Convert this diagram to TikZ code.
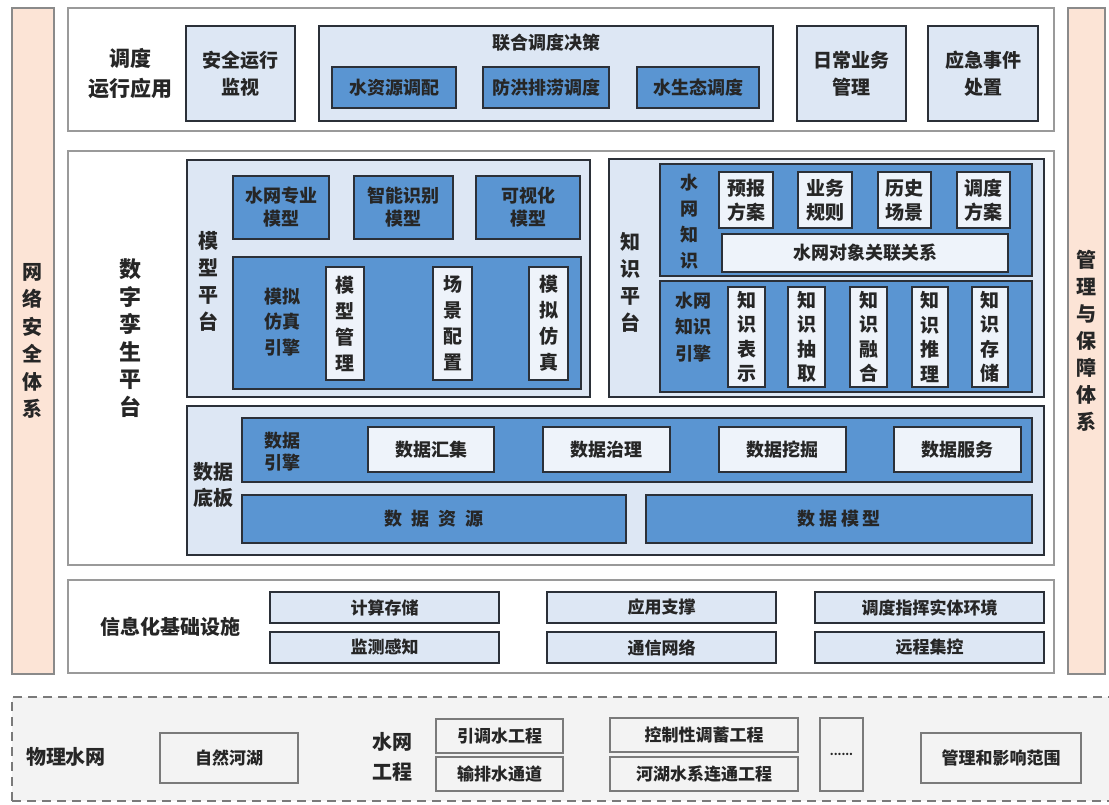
\documentclass[tikz,border=0pt]{standalone}
\usepackage{fontspec}
\setmainfont{Noto Sans CJK SC}
\definecolor{peach}{HTML}{FCE4D6}
\definecolor{lblue}{HTML}{DDE7F4}
\definecolor{wblue}{HTML}{EEF3FA}
\definecolor{mblue}{HTML}{5A95D2}
\definecolor{dk}{HTML}{2B3038}
\definecolor{gbord}{HTML}{8A8A8A}
\definecolor{secb}{HTML}{9A9A9A}
\definecolor{bgray}{HTML}{F3F3F3}
\definecolor{pgray}{HTML}{7A7A7A}
\definecolor{txt}{HTML}{262626}
\newcommand\bx[7]{\node[#6,minimum width={(#4-#2)*1pt},minimum height={(#5-#3)*1pt}] (#1) at ({(#2+#4)/2},{(#3+#5)/2}) {#7};}
\tikzset{
  every node/.style={inner sep=0pt, outer sep=0pt, align=center, text=txt},
  fs/.style 2 args={font=\bfseries\fontsize{#1}{#2}\selectfont},
  pillar/.style={draw=gbord, fill=peach, line width=1.2pt},
  section/.style={draw=secb, fill=white, line width=1.6pt},
  lbox/.style={draw=dk, fill=lblue, line width=1.4pt},
  mbox/.style={draw=dk, fill=mblue, line width=1.4pt},
  wbox/.style={draw=dk, fill=wblue, line width=1.3pt},
  pbox/.style={draw=pgray, fill=bgray, line width=1.5pt},
  dashregion/.style={draw=pgray, fill=bgray, line width=1.4pt, dash pattern=on 9pt off 6pt},
}
\begin{document}
\begin{tikzpicture}[x=1pt,y=-1pt]
\fill[white] (0,0) rectangle (1109,805);
\useasboundingbox (0,0) rectangle (1109,805);

% pillars
\bx{secl}{12}{8}{54}{674}{pillar,fs={20}{27.5}}{网\\络\\安\\全\\体\\系}
\bx{secr}{1068}{8}{1105}{674}{pillar,fs={20}{27}}{管\\理\\与\\保\\障\\体\\系}

% top section
\bx{top}{68}{8}{1054}{131}{section}{}
\node[fs={21}{30}] (toplbl) at (130,74) {调度\\运行应用};
\bx{aqjs}{186}{26}{295}{121}{lbox,fs={19}{27}}{安全运行\\监视}
\bx{lhdd}{319}{26}{773}{121}{lbox}{}
\node[fs={18}{22}] (lhddt) at (546,43) {联合调度决策};
\bx{szy}{332}{67}{456}{108}{mbox,fs={18}{22}}{水资源调配}
\bx{fhpl}{483}{67}{609}{108}{mbox,fs={18}{22}}{防洪排涝调度}
\bx{sst}{637}{67}{759}{108}{mbox,fs={18}{22}}{水生态调度}
\bx{rcyw}{797}{26}{906}{121}{lbox,fs={19}{27}}{日常业务\\管理}
\bx{yjsj}{928}{26}{1038}{121}{lbox,fs={19}{27}}{应急事件\\处置}

% digital twin section
\bx{dt}{68}{151}{1054}{565}{section}{}
\node[fs={22}{27.5}] (dtlbl) at (130,338) {数\\字\\孪\\生\\平\\台};

% model platform
\bx{mxpt}{187}{160}{590}{397}{lbox}{}
\node[fs={20}{27}] (mxptl) at (208,281) {模\\型\\平\\台};
\bx{swzy}{233}{176}{329}{239}{mbox,fs={18}{23}}{水网专业\\模型}
\bx{znsb}{354}{176}{453}{239}{mbox,fs={18}{23}}{智能识别\\模型}
\bx{ksh}{476}{176}{580}{239}{mbox,fs={18}{23}}{可视化\\模型}
\bx{mnfz}{233}{257}{581}{389}{mbox}{}
\node[fs={18}{25.5}] (mnfzl) at (282,322) {模拟\\仿真\\引擎};
\bx{mxgl}{326}{267}{364}{380}{wbox,fs={19}{26}}{模\\型\\管\\理}
\bx{cjpz}{433}{267}{472}{380}{wbox,fs={19}{26}}{场\\景\\配\\置}
\bx{mnfz2}{529}{267}{568}{380}{wbox,fs={19}{26}}{模\\拟\\仿\\真}

% knowledge platform
\bx{zspt}{609}{159}{1044}{397}{lbox}{}
\node[fs={20}{27}] (zsptl) at (630,282) {知\\识\\平\\台};
\bx{swzs}{660}{164}{1032}{276}{mbox}{}
\node[fs={18}{26}] (swzsl) at (689,222) {水\\网\\知\\识};
\bx{ybfa}{719}{172}{773}{228}{wbox,fs={19}{24}}{预报\\方案}
\bx{ywgz}{798}{172}{852}{228}{wbox,fs={19}{24}}{业务\\规则}
\bx{lscj}{878}{172}{931}{228}{wbox,fs={19}{24}}{历史\\场景}
\bx{ddfa}{957}{172}{1010}{228}{wbox,fs={19}{24}}{调度\\方案}
\bx{dxgl}{722}{234}{1008}{272}{wbox,fs={18}{22}}{水网对象关联关系}
\bx{zsyq}{660}{281}{1032}{392}{mbox}{}
\node[fs={18}{26.5}] (zsyql) at (693,327) {水网\\知识\\引擎};
\bx{zsbs}{728}{287}{765}{387}{wbox,fs={19}{24.5}}{知\\识\\表\\示}
\bx{zscq}{788}{287}{825}{387}{wbox,fs={19}{24.5}}{知\\识\\抽\\取}
\bx{zsrh}{850}{287}{887}{387}{wbox,fs={19}{24.5}}{知\\识\\融\\合}
\bx{zstl}{912}{287}{948}{387}{wbox,fs={19}{24.5}}{知\\识\\推\\理}
\bx{zscc}{972}{287}{1008}{387}{wbox,fs={19}{24.5}}{知\\识\\存\\储}

% data board
\bx{sjdb}{187}{406}{1044}{555}{lbox}{}
\node[fs={20}{26}] (sjdbl) at (213,485) {数据\\底板};
\bx{sjyq}{242}{418}{1032}{482}{mbox}{}
\node[fs={18}{22}] (sjyql) at (282,452) {数据\\引擎};
\bx{sjhj}{368}{427}{494}{472}{wbox,fs={18}{22}}{数据汇集}
\bx{sjzl}{543}{427}{670}{472}{wbox,fs={18}{22}}{数据治理}
\bx{sjwj}{719}{427}{846}{472}{wbox,fs={18}{22}}{数据挖掘}
\bx{sjfw}{894}{427}{1021}{472}{wbox,fs={18}{22}}{数据服务}
\bx{sjzy}{242}{495}{626}{543}{mbox,fs={18}{22}}{数\hspace{9pt}据\hspace{9pt}资\hspace{9pt}源}
\bx{sjmx}{646}{495}{1032}{543}{mbox,fs={18}{22}}{数\hspace{4pt}据\hspace{4pt}模\hspace{4pt}型}

% infrastructure
\bx{infra}{68}{580}{1054}{673}{section}{}
\node[fs={20}{24}] (infral) at (170,627) {信息化基础设施};
\bx{jscc}{270}{592}{499}{623}{lbox,fs={17}{20}}{计算存储}
\bx{yyzc}{547}{592}{776}{623}{lbox,fs={17}{20}}{应用支撑}
\bx{ddzh}{815}{592}{1044}{623}{lbox,fs={17}{20}}{调度指挥实体环境}
\bx{jcgz}{270}{632}{499}{663}{lbox,fs={17}{20}}{监测感知}
\bx{txwl}{547}{632}{776}{663}{lbox,fs={17}{20}}{通信网络}
\bx{ycjk}{815}{632}{1044}{663}{lbox,fs={17}{20}}{远程集控}

% physical water network
\bx{phys}{12}{697}{1120}{801}{dashregion}{}
\node[fs={20}{24}] (physl) at (66,757) {物理水网};
\bx{zrhh}{160}{733}{298}{783}{pbox,fs={17}{20}}{自然河湖}
\node[fs={20}{30}] (swgc) at (392,757) {水网\\工程};
\bx{ydsgc}{436}{719}{563}{753}{pbox,fs={17}{20}}{引调水工程}
\bx{spstd}{436}{757}{563}{791}{pbox,fs={17}{20}}{输排水通道}
\bx{kzxt}{610}{718}{798}{752}{pbox,fs={17}{20}}{控制性调蓄工程}
\bx{hhsx}{610}{757}{798}{791}{pbox,fs={17}{20}}{河湖水系连通工程}
\bx{dots}{820}{718}{863}{791}{pbox,fs={11}{14}}{......}
\bx{glyx}{921}{733}{1081}{783}{pbox,fs={17}{20}}{管理和影响范围}
\end{tikzpicture}
\end{document}
